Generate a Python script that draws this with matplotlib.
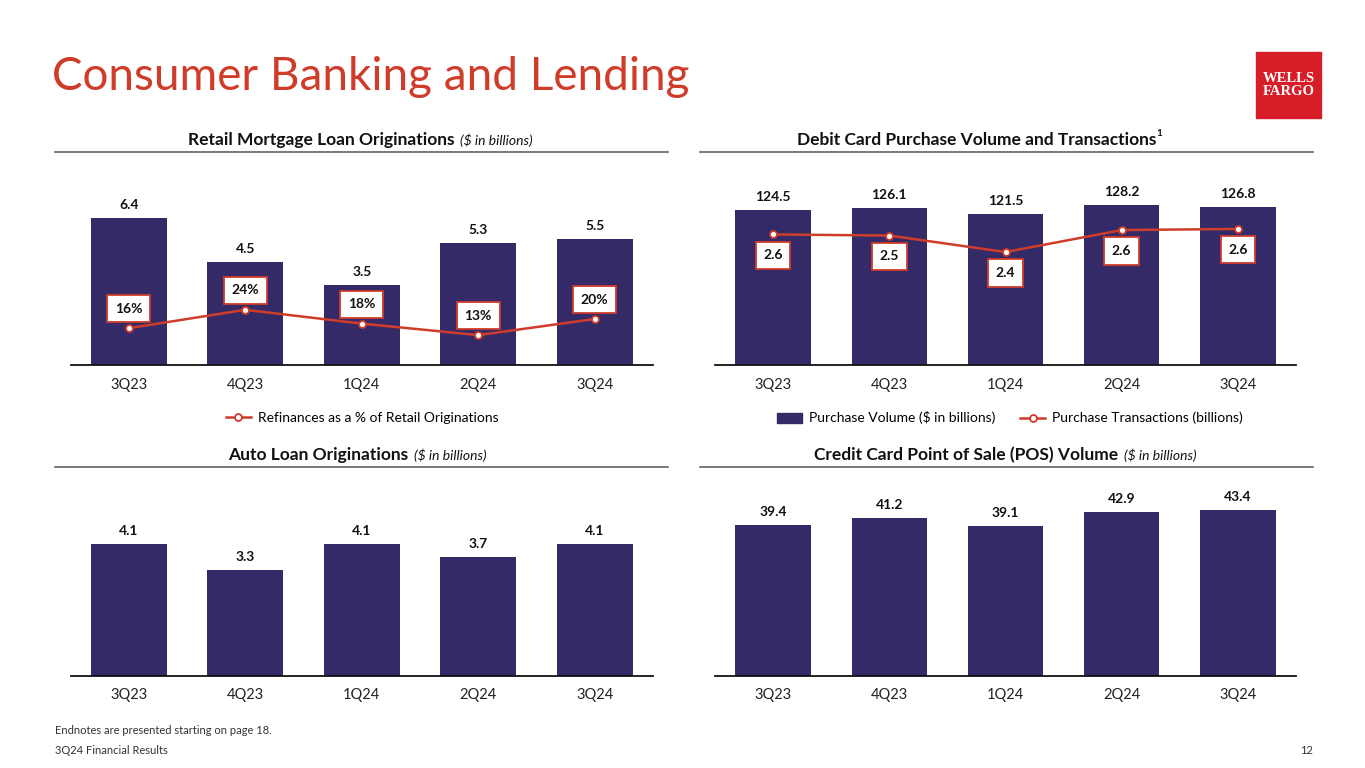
import matplotlib.pyplot as plt
from matplotlib.lines import Line2D
from matplotlib.patches import Patch, Rectangle
from matplotlib.text import Annotation

plt.rcParams['font.family'] = ['Lato', 'DejaVu Sans']

# data
quarters = ['3Q23', '4Q23', '1Q24', '2Q24', '3Q24']
mortgage = [6.4, 4.5, 3.5, 5.3, 5.5]
refi_pct = [16, 24, 18, 13, 20]
debit_volume = [124.5, 126.1, 121.5, 128.2, 126.8]
debit_trans = [2.56, 2.55, 2.40, 2.60, 2.61]
debit_trans_labels = ['2.6', '2.5', '2.4', '2.6', '2.6']
auto_loans = [4.1, 3.3, 4.1, 3.7, 4.1]
credit_pos = [39.4, 41.2, 39.1, 42.9, 43.4]

BAR = '#342a68'
RED = '#d03c2a'
W, H = 1365, 768

fig = plt.figure(figsize=(W / 100, H / 100), dpi=100)


def rect(x0, y_top, x1, y_bot):
    return [x0 / W, 1 - y_bot / H, (x1 - x0) / W, (y_bot - y_top) / H]


def bar_axes(r, values, top, fmt='{:.1f}'):
    ax = fig.add_axes(r)
    x = range(len(values))
    ax.bar(x, values, width=0.65, color=BAR, zorder=2)
    for i, v in enumerate(values):
        ax.annotate(fmt.format(v), (i, v), xytext=(0, 5), textcoords='offset points',
                    ha='center', va='bottom', fontsize=10, fontweight='bold', color='#111111')
    ax.set_xlim(-0.5, len(values) - 0.5)
    ax.set_ylim(0, top)
    ax.set_xticks(list(x))
    ax.set_xticklabels(quarters, fontsize=10.5, color='#222222')
    ax.tick_params(axis='x', length=0, pad=9)
    ax.set_yticks([])
    for s in ['top', 'right', 'left']:
        ax.spines[s].set_visible(False)
    ax.spines['bottom'].set_color('#111111')
    ax.spines['bottom'].set_linewidth(1.3)
    ax.patch.set_alpha(0)
    return ax


def line_overlay(ax, values, labels, lim, dy):
    ax2 = ax.twinx()
    ax2.plot(range(len(values)), values, color=RED, lw=1.8, marker='o', ms=5,
             mfc='white', mec=RED, mew=1.3, zorder=3)
    for i, (v, lab) in enumerate(zip(values, labels)):
        ax2.annotate(lab, (i, v), xytext=(0, dy), textcoords='offset points',
                     ha='center', va='center', fontsize=10, fontweight='bold', color='#111111',
                     bbox=dict(boxstyle='square,pad=0.55', fc='white', ec=RED, lw=1.3))
    ax2.set_ylim(*lim)
    ax2.axis('off')
    return ax2


def section_title(x, y, bold, italic=None, sup=None, rule=(55, 668)):
    t = fig.text(x / W, 1 - y / H, bold, fontsize=12.5, fontweight='bold', color='#111111',
                 ha='left', va='center')
    if italic:
        fig.add_artist(Annotation(italic, xy=(1, 0.5), xycoords=t, xytext=(4, 0),
                                  textcoords='offset points', fontsize=10, style='italic',
                                  color='#111111', va='center'))
    if sup:
        fig.add_artist(Annotation(sup, xy=(1, 0.9), xycoords=t, xytext=(0, 0),
                                  textcoords='offset points', fontsize=7, fontweight='bold',
                                  color='#111111', ha='left', va='center'))
    fig.add_artist(Line2D([rule[0] / W, rule[1] / W], [1 - (y + 12) / H] * 2,
                          color='#555555', lw=1.1))


# title and logo
fig.text(52 / W, 1 - 77 / H, 'Consumer Banking and Lending', fontsize=33, color=RED,
         ha='left', va='center')
fig.add_artist(Rectangle((1256 / W, 1 - 118 / H), 65 / W, 66 / H, color='#d71e28',
                         transform=fig.transFigure))
fig.text(1288.5 / W, 1 - 85 / H, 'WELLS\nFARGO', family=['Liberation Serif', 'DejaVu Serif'],
         fontweight='bold', fontsize=10.5, color='white', ha='center', va='center',
         linespacing=0.95)

# retail mortgage
section_title(188, 140, 'Retail Mortgage Loan Originations', '($ in billions)', rule=(55, 668))
ax1 = bar_axes(rect(70.5, 170, 653, 365), mortgage, 8.48)
line_overlay(ax1, refi_pct, [f'{v}%' for v in refi_pct], (0, 84.8), 14)
fig.legend(handles=[Line2D([], [], color=RED, lw=1.8, marker='o', ms=5, mfc='white',
                           mec=RED, mew=1.3)],
           labels=['Refinances as a % of Retail Originations'],
           loc='center', bbox_to_anchor=(362 / W, 1 - 418 / H), frameon=False,
           fontsize=10, handlelength=1.8, handletextpad=0.5)

# debit card
section_title(797, 140, 'Debit Card Purchase Volume and Transactions', sup='1', rule=(700, 1313))
ax2 = bar_axes(rect(715, 170, 1296, 365), debit_volume, 156.6)
line_overlay(ax2, debit_trans, debit_trans_labels, (1.373, 3.146), -15)
fig.legend(handles=[Patch(color=BAR),
                    Line2D([], [], color=RED, lw=1.8, marker='o', ms=5, mfc='white',
                           mec=RED, mew=1.3)],
           labels=['Purchase Volume ($ in billions)', 'Purchase Transactions (billions)'],
           loc='center', bbox_to_anchor=(1010 / W, 1 - 418 / H), frameon=False, ncol=2,
           fontsize=10, handlelength=1.8, handletextpad=0.5, columnspacing=1.8)

# auto loans
section_title(228, 455, 'Auto Loan Originations', '($ in billions)', rule=(55, 668))
bar_axes(rect(70.5, 480, 653, 676), auto_loans, 6.1)

# credit card POS
section_title(814, 455, 'Credit Card Point of Sale (POS) Volume', '($ in billions)',
              rule=(700, 1313))
bar_axes(rect(715, 480, 1296, 676), credit_pos, 51.2)

# footer
fig.text(55 / W, 1 - 731 / H, 'Endnotes are presented starting on page 18.', fontsize=8,
         color='#333333', va='center')
fig.text(55 / W, 1 - 750 / H, '3Q24 Financial Results', fontsize=8, color='#333333',
         va='center')
fig.text(1313 / W, 1 - 750 / H, '12', fontsize=8, color='#333333', va='center', ha='right')

fig.savefig('out.png', dpi=100)
